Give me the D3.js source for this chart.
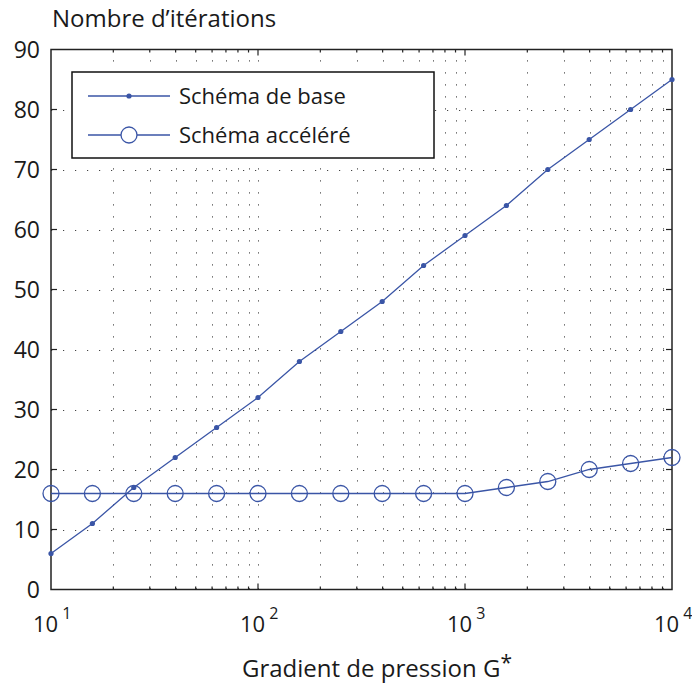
<!DOCTYPE html>
<html>
<head>
<meta charset="utf-8">
<script src="https://cdn.jsdelivr.net/npm/d3@7"></script>
<style>
  body { margin: 0; background: #fff; }
  svg text { font-family: "Open Sans", "Noto Sans", sans-serif; fill: #1a1a1a; }
</style>
</head>
<body>
<svg id="chart" width="692" height="686"></svg>
<script>
// Pressure gradient values (5 per decade, 10 to 10^4)
const gradient = [10, 15.85, 25.12, 39.81, 63.10, 100, 158.5, 251.2, 398.1, 631.0,
                  1000, 1585, 2512, 3981, 6310, 10000];
// Iteration counts for each scheme
const baseScheme = [6, 11, 17, 22, 27, 32, 38, 43, 48, 54, 59, 64, 70, 75, 80, 85];
const accelScheme = [16, 16, 16, 16, 16, 16, 16, 16, 16, 16, 16, 17, 18, 20, 21, 22];
const seriesNames = ["Schéma de base", "Schéma accéléré"];
const yTicks = [0, 10, 20, 30, 40, 50, 60, 70, 80, 90];
const xDecades = [1, 2, 3, 4];

const svg = d3.select("#chart");
const plotL = 51, plotR = 672, plotT = 49.5, plotB = 589.5;
const blue = "#3a55a6";

const x = d3.scaleLog().domain([10, 10000]).range([plotL, plotR]);
const y = d3.scaleLinear().domain([0, 90]).range([plotB, plotT]);

// minor log positions: 2..9 within each decade
const minorX = [];
[10, 100, 1000].forEach(d => { for (let k = 2; k <= 9; k++) minorX.push(d * k); });
const majorX = xDecades.map(p => Math.pow(10, p));

// dotted grid
const grid = svg.append("g").attr("stroke", "#444").attr("stroke-width", 1)
  .attr("stroke-dasharray", "1.2,10.8");
grid.selectAll("line.v").data(minorX.concat(majorX.slice(1, 3))).join("line")
  .attr("x1", d => Math.round(x(d)) + 0.5).attr("x2", d => Math.round(x(d)) + 0.5)
  .attr("y1", plotB).attr("y2", plotT);
grid.selectAll("line.h").data(yTicks.slice(1, 9)).join("line")
  .attr("y1", d => Math.round(y(d)) + 0.5).attr("y2", d => Math.round(y(d)) + 0.5)
  .attr("x1", plotL).attr("x2", plotR);

// frame
svg.append("rect").attr("x", plotL).attr("y", plotT).attr("width", plotR - plotL)
  .attr("height", plotB - plotT).attr("fill", "none").attr("stroke", "#222").attr("stroke-width", 1.5);

// inward ticks on all four sides
const ticks = svg.append("g").attr("stroke", "#222").attr("stroke-width", 1.2);
yTicks.slice(1, 9).forEach(v => {
  ticks.append("line").attr("x1", plotL).attr("x2", plotL + 6).attr("y1", y(v)).attr("y2", y(v));
  ticks.append("line").attr("x1", plotR).attr("x2", plotR - 6).attr("y1", y(v)).attr("y2", y(v));
});
majorX.slice(1, 3).forEach(v => {
  ticks.append("line").attr("x1", x(v)).attr("x2", x(v)).attr("y1", plotB).attr("y2", plotB - 6);
  ticks.append("line").attr("x1", x(v)).attr("x2", x(v)).attr("y1", plotT).attr("y2", plotT + 6);
});
minorX.forEach(v => {
  ticks.append("line").attr("x1", x(v)).attr("x2", x(v)).attr("y1", plotB).attr("y2", plotB - 3);
  ticks.append("line").attr("x1", x(v)).attr("x2", x(v)).attr("y1", plotT).attr("y2", plotT + 3);
});

// y tick labels
svg.append("g").selectAll("text").data(yTicks).join("text")
  .attr("x", 40).attr("y", d => y(d) + 8.5).attr("text-anchor", "end")
  .attr("font-size", 23).text(d => d);

// x tick labels 10^n
const xl = svg.append("g").selectAll("text").data(xDecades).join("text")
  .attr("x", d => x(Math.pow(10, d)) - 18).attr("y", 632).attr("font-size", 22);
xl.append("tspan").text("10");
xl.append("tspan").attr("dx", 4).attr("dy", -13).attr("font-size", 16).text(d => d);

// axis titles
svg.append("text").attr("x", 52).attr("y", 27).attr("font-size", 24).text("Nombre d’itérations");
const xt = svg.append("text").attr("x", 242).attr("y", 677).attr("font-size", 24);
xt.append("tspan").text("Gradient de pression G");
xt.append("tspan").attr("dy", -7).attr("font-size", 21).text("*");

// series
const line = d3.line().x(d => x(d[0])).y(d => y(d[1]));
const basePts = gradient.map((g, i) => [g, baseScheme[i]]);
const accelPts = gradient.map((g, i) => [g, accelScheme[i]]);

svg.append("path").datum(basePts).attr("d", line).attr("fill", "none")
  .attr("stroke", blue).attr("stroke-width", 1.3);
svg.append("g").selectAll("circle").data(basePts).join("circle")
  .attr("cx", d => x(d[0])).attr("cy", d => y(d[1])).attr("r", 2.6).attr("fill", blue);

svg.append("path").datum(accelPts).attr("d", line).attr("fill", "none")
  .attr("stroke", blue).attr("stroke-width", 1.3);
svg.append("g").selectAll("circle").data(accelPts).join("circle")
  .attr("cx", d => x(d[0])).attr("cy", d => y(d[1])).attr("r", 8).attr("fill", "none")
  .attr("stroke", blue).attr("stroke-width", 1.3);

// legend
const lg = svg.append("g");
lg.append("rect").attr("x", 72).attr("y", 72).attr("width", 362).attr("height", 86)
  .attr("fill", "#fff").attr("stroke", "#111").attr("stroke-width", 1.5);
seriesNames.forEach((name, i) => {
  const cy = 96 + i * 39;
  lg.append("line").attr("x1", 88).attr("x2", 170).attr("y1", cy).attr("y2", cy)
    .attr("stroke", blue).attr("stroke-width", 1.3);
  if (i === 0) {
    lg.append("circle").attr("cx", 129).attr("cy", cy).attr("r", 2.6).attr("fill", blue);
  } else {
    lg.append("circle").attr("cx", 129).attr("cy", cy).attr("r", 8).attr("fill", "#fff")
      .attr("stroke", blue).attr("stroke-width", 1.3);
  }
  lg.append("text").attr("x", 179).attr("y", cy + 8).attr("font-size", 22).text(name);
});
</script>
</body>
</html>
